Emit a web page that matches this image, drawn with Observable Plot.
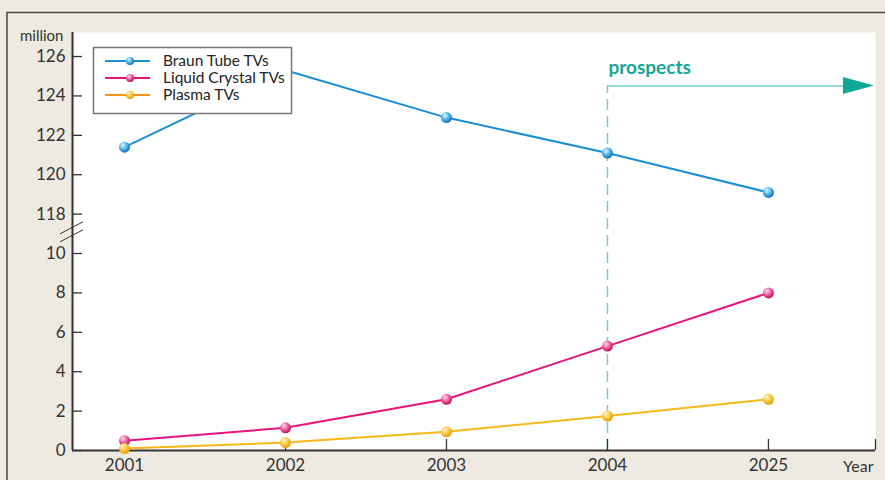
<!DOCTYPE html>
<html><head><meta charset="utf-8">
<script src="https://cdn.jsdelivr.net/npm/d3@7"></script>
<script src="https://cdn.jsdelivr.net/npm/@observablehq/plot@0.6"></script>
<style>
html,body{margin:0;padding:0;background:#eeeae1;}
#chart svg{display:block;}
</style>
</head><body><div id="chart"></div>
<script>
const years = ["2001","2002","2003","2004","2025"];
const braun = [121.4, 125.3, 122.9, 121.1, 119.1];
const lcd = [0.5, 1.15, 2.6, 5.3, 8.0];
const plasma = [0.1, 0.4, 0.95, 1.75, 2.6];
const seriesNames = ["Braun Tube TVs", "Liquid Crystal TVs", "Plasma TVs"];
const lineColors = ["#1a8fd6", "#e8137a", "#f9b817"];
const legendColors = ["#1a8fd6", "#e8137a", "#f7941d"];
const lowTicks = [0, 2, 4, 6, 8, 10];
const highTicks = [118, 120, 122, 124, 126];
const breakOffset = 106;          // upper segment shifted down by this much
const prospectsLevel = 124.5;     // level of the "prospects" arrow (million)
const prospectsStart = 3;         // index of 2004

const tf = v => v > 50 ? v - breakOffset : v;
const untf = v => v > 11 ? v + breakOffset : v;
const allSeries = [braun, lcd, plasma];
const rows = [];
allSeries.forEach((arr, s) => arr.forEach((v, i) => rows.push({series: seriesNames[s], s, i, v, y: tf(v)})));
const yTicks = [...lowTicks, ...highTicks].map(tf);
const xDomain = [-0.323, 4.665];
const xTicks = [...years.map((d, i) => i), xDomain[1]];

const font = "Lato, 'Open Sans', sans-serif";

const plot = Plot.plot({
  width: 885, height: 480,
  marginLeft: 72, marginRight: 10, marginTop: 32, marginBottom: 30,
  style: {background: "transparent", fontFamily: font, fontSize: "17px", color: "#333", overflow: "visible"},
  x: {type: "linear", domain: xDomain, axis: null},
  y: {domain: [0, 21.22], axis: null},
  color: {domain: seriesNames, range: lineColors},
  marks: [
    Plot.frame({fill: "white", stroke: "none"}),
    // prospects annotation
    Plot.ruleX([prospectsStart], {y1: 0, y2: tf(prospectsLevel), stroke: "#72d0c8", strokeWidth: 1.5, strokeDasharray: "11,6"}),
    Plot.ruleY([tf(prospectsLevel)], {x1: prospectsStart, x2: 4.47, stroke: "#72d0c8", strokeWidth: 1.5}),
    Plot.text(["prospects"], {x: prospectsStart, y: tf(prospectsLevel), dy: -18, dx: 1, textAnchor: "start", fill: "#15a595", fontWeight: "bold", fontSize: 19, fontFamily: font}),
    // axes
    Plot.axisY({ticks: yTicks, tickSize: -10, tickFormat: () => "", stroke: "#333", strokeWidth: 1.3, label: null}),
    Plot.axisY({ticks: yTicks, tickSize: 0, tickPadding: 7, tickFormat: v => String(untf(v)), fill: "#333", fontSize: 17, label: null}),
    Plot.axisX({ticks: xTicks, tickSize: -11, tickFormat: () => "", stroke: "#333", strokeWidth: 1.3, label: null}),
    Plot.axisX({ticks: years.map((d, i) => i), tickSize: 0, tickPadding: 8, tickFormat: i => years[i], fill: "#333", fontSize: 17, label: null}),
    Plot.ruleX([xDomain[0]], {stroke: "#333", strokeWidth: 2}),
    Plot.ruleY([0], {stroke: "#333", strokeWidth: 2}),
    Plot.text(["Year"], {frameAnchor: "bottom-right", lineAnchor: "middle", dy: 16, dx: -2, textAnchor: "end", fill: "#333", fontSize: 16}),
    Plot.text(["million"], {frameAnchor: "top-left", lineAnchor: "middle", dx: -9, dy: 4, textAnchor: "end", fill: "#333", fontSize: 15}),
    // data
    Plot.line(rows, {x: "i", y: "y", z: "series", stroke: "series", strokeWidth: 2}),
    ...seriesNames.map((name, s) => Plot.dot(rows.filter(d => d.s === s), {x: "i", y: "y", r: 5.5, fill: `url(#grad${s})`, stroke: "none"}))
  ]
});

document.getElementById("chart").appendChild(plot);
const svg = d3.select(plot);
const xs = plot.scale("x"), ys = plot.scale("y");
const X = v => xs.apply(v), Y = v => ys.apply(v);

// gradients
const defs = svg.insert("defs", ":first-child");
const gradStops = [["#e6f6ff", "#4fb4ec", "#0f6fb0"], ["#ffe1ee", "#ef5e9e", "#b80f5c"], ["#fff6d0", "#fdc840", "#e59a06"]];
gradStops.forEach((st, s) => {
  const g = defs.append("radialGradient").attr("id", `grad${s}`).attr("cx", "0.4").attr("cy", "0.35").attr("r", "0.65").attr("fx", "0.35").attr("fy", "0.3");
  g.append("stop").attr("offset", "0").attr("stop-color", st[0]);
  g.append("stop").attr("offset", "0.55").attr("stop-color", st[1]);
  g.append("stop").attr("offset", "1").attr("stop-color", st[2]);
});

// outer border
svg.append("path").attr("d", `M7,480 V12.5 H885`).attr("fill", "none").attr("stroke", "#444").attr("stroke-width", 1.5);

// axis break marks
const bx = X(xDomain[0]), by = Y(11) - 1.5;
[-4, 4].forEach(o => {
  svg.append("line").attr("x1", bx - 12).attr("y1", by + o + 6).attr("x2", bx + 11).attr("y2", by + o - 6)
    .attr("stroke", "#333").attr("stroke-width", 1);
});

// arrow head
const ay = Y(tf(prospectsLevel)), ax = X(4.466);
svg.append("path").attr("d", `M${ax},${ay - 8.5} L${ax + 31},${ay} L${ax},${ay + 8.5} Z`).attr("fill", "#0fa898");

// legend
const lg = svg.append("g").attr("text-anchor", "start");
lg.append("rect").attr("x", 93.5).attr("y", 47.5).attr("width", 198).attr("height", 66).attr("fill", "white").attr("stroke", "#777").attr("stroke-width", 1.5);
seriesNames.forEach((name, s) => {
  const yy = 61 + s * 17;
  lg.append("line").attr("x1", 105).attr("x2", 150).attr("y1", yy).attr("y2", yy).attr("stroke", legendColors[s]).attr("stroke-width", 2);
  lg.append("circle").attr("cx", 130).attr("cy", yy).attr("r", 4).attr("fill", `url(#grad${s})`);
  lg.append("text").attr("x", 163).attr("y", yy).attr("dy", "0.35em").attr("text-anchor", "start").attr("fill", "#222").attr("font-size", 15.5).attr("font-family", font).text(name);
});
</script>
</body></html>
